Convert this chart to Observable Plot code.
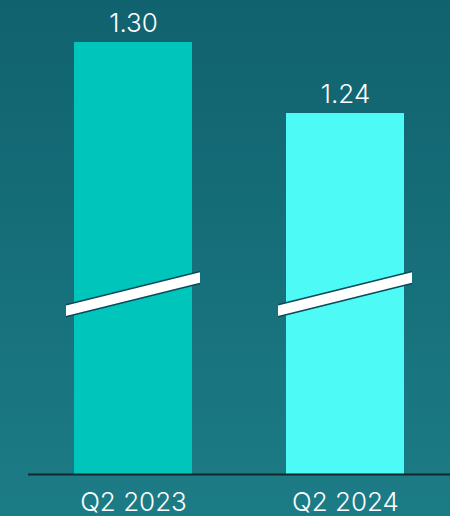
<!DOCTYPE html>
<html><head>
<meta charset="utf-8">
<script src="https://cdn.jsdelivr.net/npm/d3@7"></script>
<script src="https://cdn.jsdelivr.net/npm/@observablehq/plot@0.6"></script>
<style>
html,body{margin:0;padding:0;}
body{width:450px;height:516px;background:linear-gradient(#10626e,#1c7c86);overflow:hidden;}
svg{display:block;}
</style></head><body><div id="chart"></div>
<script>
const quarters = ["Q2 2023", "Q2 2024"];
const values = [1.30, 1.24];
const valueLabels = ["1.30", "1.24"];
const barColors = ["#00c5bb", "#4dfaf5"];
const data = quarters.map((q, i) => ({q, v: values[i], label: valueLabels[i], c: barColors[i]}));
const yMin = 0.935; // axis is broken: bars start above zero
const breakLeft = 1.073, breakRight = 1.101; // y values of the break band ends

const plot = Plot.plot({
  width: 450, height: 516,
  marginTop: 42, marginBottom: 42, marginLeft: 28, marginRight: 0,
  style: {background: "transparent", fontFamily: "Inter, 'Liberation Sans', sans-serif", fontSize: "26px", overflow: "visible"},
  x: {domain: quarters, paddingInner: 0.443, paddingOuter: 0.2165, axis: null},
  y: {domain: [yMin, 1.30], axis: null},
  color: {type: "identity"},
  marks: [
    Plot.barY(data, {x: "q", y1: yMin, y2: "v", fill: "c"}),
    Plot.ruleY([yMin], {stroke: "#17262b", strokeWidth: 2}),
    Plot.text(data, {x: "q", y: "v", text: "label", dy: -11, lineAnchor: "bottom", fill: "white", fontSize: 26, fontWeight: 300}),
    Plot.text(data, {x: "q", y: yMin, text: "q", dy: 36, lineAnchor: "bottom", fill: "white", fontSize: 26, fontWeight: 300})
  ]
});
document.getElementById("chart").appendChild(plot);

// broken-axis markers drawn with the plot's own scales
const xs = plot.scale("x"), ys = plot.scale("y");
const svg = d3.select(plot);
const g = svg.append("g");
const half = 6, ext = 8;
quarters.forEach(q => {
  const x0 = xs.apply(q) - ext, x1 = xs.apply(q) + xs.bandwidth + ext;
  const yl = ys.apply(breakLeft), yr = ys.apply(breakRight);
  g.append("polygon")
    .attr("points", [[x0, yl - half], [x1, yr - half], [x1, yr + half], [x0, yl + half]].map(p => p.join(",")).join(" "))
    .attr("fill", "white");
  [-half, half].forEach(o => {
    g.append("line").attr("x1", x0).attr("y1", yl + o).attr("x2", x1).attr("y2", yr + o)
      .attr("stroke", "#0b4a5a").attr("stroke-width", 1.6);
  });
});
</script></body></html>
